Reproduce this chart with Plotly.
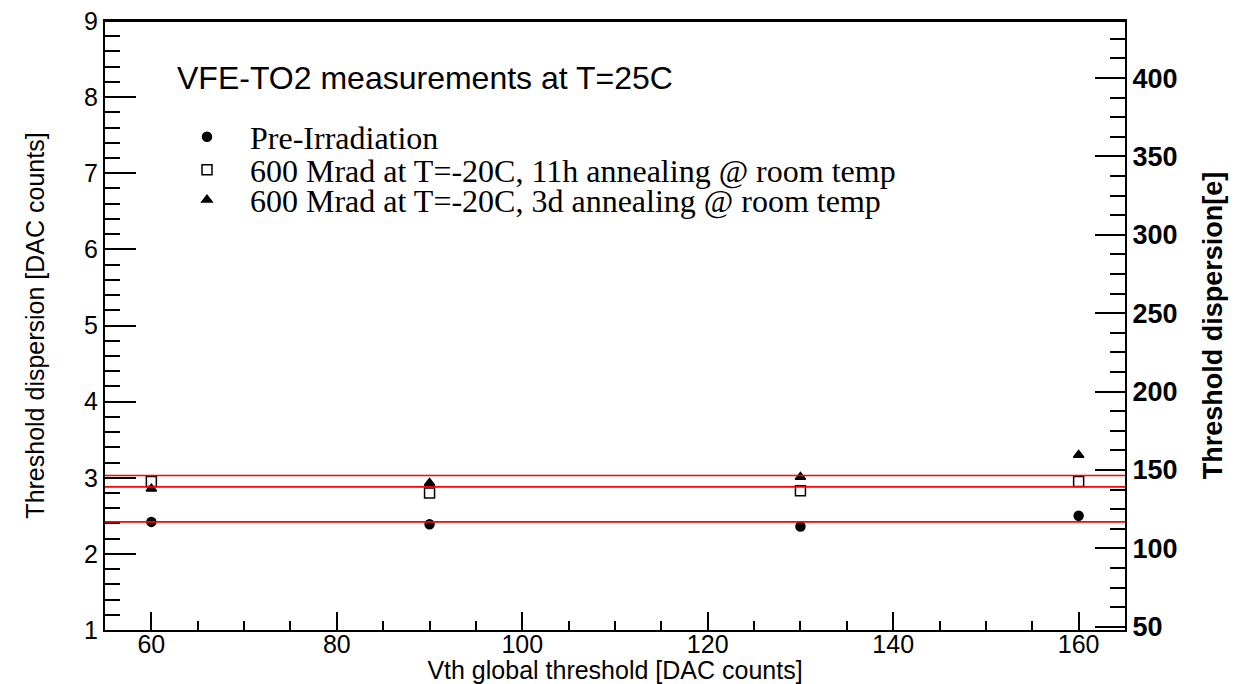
import plotly.graph_objects as go

# ---- data ----
vth = [60, 90, 130, 160]
pre_irr = [2.42, 2.39, 2.36, 2.50]
ann_11h = [2.95, 2.80, 2.83, 2.95]
ann_3d = [2.855, 2.93, 3.01, 3.30]
fit_levels = [2.42, 2.88, 3.03]
names = [
    "Pre-Irradiation",
    "600 Mrad at T=-20C, 11h annealing @ room temp",
    "600 Mrad at T=-20C, 3d annealing @ room temp",
]
title_text = "VFE-TO2 measurements at T=25C"

SANS = "Liberation Sans, Arial, Helvetica, sans-serif"
SERIF = "Liberation Serif, Times New Roman, serif"

# page body has an 8px margin, so the figure starts at (8, 8)
OFF = 8
PL, PT, PR, PB = 105, 21, 1125, 630  # plot frame in window pixels
PW, PH = PR - PL, PB - PT


def px_x(x):
    return (x - PL) / PW


def px_y(y):
    return (PB - y) / PH


fig = go.Figure()
series = [pre_irr, ann_11h, ann_3d]
symbols = ["circle", "square-open", "triangle-up"]
sizes = [9, 10, 9]
legends = ["legend", "legend2", "legend3"]
for vals, nm, sym, sz, lg in zip(series, names, symbols, sizes, legends):
    fig.add_trace(go.Scatter(
        x=vth, y=vals, mode="markers", name=nm, legend=lg,
        marker=dict(symbol=sym, size=sz, color="black",
                    line=dict(color="black", width=1.5)),
    ))

# dummy trace so the right axis is drawn
fig.add_trace(go.Scatter(x=[None], y=[None], yaxis="y2", showlegend=False,
                         hoverinfo="skip"))

for lv in fit_levels:
    fig.add_shape(type="line", xref="x domain", x0=0, x1=1, yref="y",
                  y0=lv, y1=lv, line=dict(color="red", width=1.6), layer="above")

# top frame line
fig.add_shape(type="line", xref="x domain", x0=0, x1=1, yref="y domain",
              y0=1, y1=1, line=dict(color="black", width=2), layer="above")

fig.add_annotation(text=title_text, xref="paper", yref="paper",
                   x=px_x(175), y=px_y(78),
                   xanchor="left", yanchor="middle", showarrow=False,
                   font=dict(family=SANS, size=32, color="black"))

leg_common = dict(font=dict(family=SERIF, size=32, color="black"),
                  bgcolor="rgba(0,0,0,0)", borderwidth=0, itemwidth=76,
                  xanchor="left", yanchor="middle", x=px_x(164))
row_y = [137, 170, 200]
fig.update_layout(
    legend=dict(**leg_common, y=px_y(row_y[0])),
    legend2=dict(**leg_common, y=px_y(row_y[1])),
    legend3=dict(**leg_common, y=px_y(row_y[2])),
)

fig.update_layout(
    width=1242 - OFF, height=684 - OFF,
    margin=dict(l=PL - OFF, r=1242 - PR, t=PT - OFF, b=684 - PB),
    paper_bgcolor="white", plot_bgcolor="white",
    showlegend=True,
    xaxis=dict(
        range=[55, 165], tick0=0, dtick=20, ticks="inside", ticklen=18,
        tickwidth=1.5, tickcolor="black", showgrid=False, zeroline=False,
        showline=True, linecolor="black", linewidth=2, mirror=True,
        automargin=False, ticklabelstandoff=-9, ticklabeloverflow="allow",
        tickfont=dict(family=SANS, size=25, color="black"),
        minor=dict(dtick=5, ticks="inside", ticklen=9, tickwidth=1.5,
                   tickcolor="black", showgrid=False),
        title=dict(text="Vth global threshold [DAC counts]", standoff=2,
                   font=dict(family=SANS, size=25, color="black")),
    ),
    yaxis=dict(
        range=[1, 9], tick0=0, dtick=1, ticks="inside", ticklen=31,
        tickwidth=1.5, tickcolor="black", showgrid=False, zeroline=False,
        showline=True, linecolor="black", linewidth=2, mirror=True,
        automargin=False, ticklabeloverflow="allow",
        tickfont=dict(family=SANS, size=25, color="black"),
        minor=dict(dtick=0.2, ticks="inside", ticklen=15, tickwidth=1.5,
                   tickcolor="black", showgrid=False),
        title=dict(text="Threshold dispersion [DAC counts]", standoff=32,
                   font=dict(family=SANS, size=25, color="black")),
    ),
    yaxis2=dict(
        overlaying="y", side="right",
        range=[47.9, 436.4], tick0=0, dtick=50, ticks="inside", ticklen=30,
        tickwidth=1.5, tickcolor="black", showgrid=False, zeroline=False,
        showline=True, linecolor="black", linewidth=2, automargin=False,
        ticklabeloverflow="allow",
        tickfont=dict(family=SANS, size=27, color="black", weight="bold"),
        minor=dict(dtick=12.5, ticks="inside", ticklen=15, tickwidth=1.5,
                   tickcolor="black", showgrid=False),
        title=dict(text="Threshold dispersion[e]", standoff=27,
                   font=dict(family=SANS, size=27, color="black", weight="bold")),
    ),
)

fig.write_html("out.html")
